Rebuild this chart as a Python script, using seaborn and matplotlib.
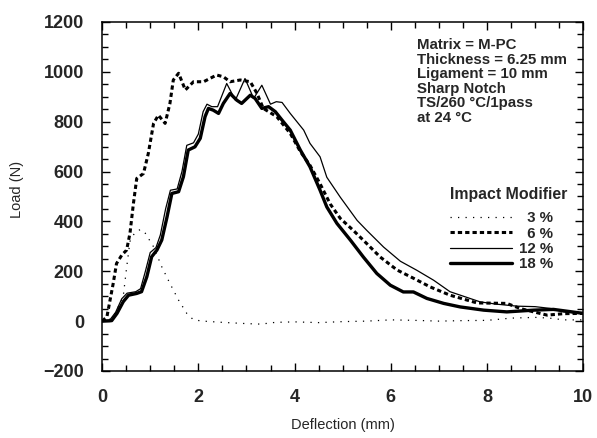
import matplotlib
matplotlib.use("Agg")
import matplotlib.pyplot as plt
from matplotlib.ticker import MultipleLocator
import pandas as pd
import seaborn as sns

# Impact-modifier levels (labels padded so the % signs line up)
modifiers = ["  3 %", "  6 %", "12 %", "18 %"]

# Load-deflection records, deflection in mm, load in N
defl_3 = [0.0, 0.15, 0.27, 0.37, 0.44, 0.51, 0.58, 0.68, 0.80, 0.90, 1.00, 1.07, 1.24,
          1.41, 1.59, 1.76, 1.90, 2.10, 2.50, 3.00, 3.30, 3.60, 4.00, 4.50, 5.00, 5.50,
          6.00, 6.50, 7.00, 7.50, 8.00, 8.50, 9.00, 9.30, 9.60, 10.0]
load_3 = [0, 5, 31, 70, 100, 215, 320, 355, 368, 352, 320, 298, 218,
          151, 84, 31, 5, 0, -5, -10, -12, -5, -3, -6, -2, 0,
          5, 3, 0, 2, 3, 12, 15, 12, 5, 5]

defl_6 = [0.0, 0.10, 0.23, 0.30, 0.41, 0.51, 0.58, 0.65, 0.72, 0.86, 0.96, 1.07, 1.17,
          1.31, 1.41, 1.48, 1.59, 1.73, 1.90, 2.11, 2.38, 2.52, 2.66, 2.87, 3.08, 3.22,
          3.35, 3.63, 3.91, 4.12, 4.32, 4.53, 4.74, 4.95, 5.22, 5.50, 5.78, 6.13, 6.47,
          6.82, 7.23, 7.79, 8.10, 8.41, 8.70, 8.97, 9.25, 9.60, 10.0]
load_6 = [0, 17, 150, 231, 265, 285, 353, 470, 572, 592, 672, 793, 826,
          793, 873, 967, 994, 927, 960, 960, 987, 980, 960, 967, 960, 913,
          853, 820, 753, 680, 625, 551, 470, 412, 364, 311, 257, 205, 172,
          137, 104, 73, 72, 71, 50, 37, 24, 30, 31]

defl_12 = [0.0, 0.15, 0.28, 0.41, 0.52, 0.70, 0.80, 0.90, 1.00, 1.12, 1.21, 1.32, 1.42,
           1.56, 1.66, 1.76, 1.90, 2.00, 2.10, 2.18, 2.28, 2.40, 2.59, 2.77, 2.97, 3.15,
           3.32, 3.50, 3.62, 3.74, 3.91, 4.19, 4.32, 4.53, 4.67, 4.95, 5.30, 5.50, 5.85,
           6.20, 6.54, 6.89, 7.23, 7.86, 8.20, 8.62, 9.00, 9.31, 9.59, 10.0]
load_12 = [0, 2, 35, 90, 112, 118, 130, 200, 275, 295, 345, 450, 525,
           530, 600, 705, 715, 750, 840, 870, 860, 860, 953, 886, 973, 893,
           946, 870, 880, 877, 833, 766, 713, 659, 577, 497, 404, 364, 297,
           240, 204, 164, 118, 77, 68, 60, 58, 51, 37, 30]

defl_18 = [0.0, 0.20, 0.31, 0.44, 0.55, 0.72, 0.82, 0.93, 1.03, 1.14, 1.24, 1.35, 1.45,
           1.59, 1.69, 1.79, 1.93, 2.04, 2.14, 2.21, 2.31, 2.42, 2.52, 2.66, 2.80, 2.90,
           3.08, 3.18, 3.32, 3.46, 3.60, 3.74, 3.91, 4.12, 4.32, 4.53, 4.67, 4.88, 5.16,
           5.43, 5.71, 5.99, 6.26, 6.47, 6.75, 7.10, 7.44, 7.93, 8.41, 8.97, 9.38, 10.0]
load_18 = [0, 2, 31, 78, 104, 111, 118, 178, 258, 285, 325, 418, 512,
           519, 579, 686, 699, 733, 820, 853, 846, 833, 873, 913, 886, 873,
           906, 893, 853, 860, 840, 806, 766, 686, 619, 525, 458, 392, 325,
           257, 191, 144, 117, 117, 91, 71, 57, 44, 37, 44, 47, 31]

x_ticks = [0, 2, 4, 6, 8, 10]
y_ticks = [-200, 0, 200, 400, 600, 800, 1000, 1200]

notes = ("Matrix = M-PC\nThickness = 6.25 mm\nLigament = 10 mm\n"
         "Sharp Notch\nTS/260 \u00b0C/1pass\nat 24 \u00b0C")

sns.set_theme(style="ticks")
plt.rcParams["font.family"] = ["Liberation Sans", "DejaVu Sans"]
plt.rcParams["axes.edgecolor"] = "black"
plt.rcParams["axes.linewidth"] = 1.1

frames = []
for level, xs, ys in zip(modifiers,
                         [defl_3, defl_6, defl_12, defl_18],
                         [load_3, load_6, load_12, load_18]):
    frames.append(pd.DataFrame({"Deflection (mm)": xs, "Load (N)": ys,
                                "Impact Modifier": level}))
df = pd.concat(frames, ignore_index=True)

fig = plt.figure(figsize=(5.97, 4.38), dpi=100)
ax = fig.add_axes([0.171, 0.153, 0.806, 0.797])

sns.lineplot(
    data=df, x="Deflection (mm)", y="Load (N)",
    hue="Impact Modifier", style="Impact Modifier", size="Impact Modifier",
    palette=["black"] * 4,
    dashes={modifiers[0]: (1, 5), modifiers[1]: (1.4, 1.0),
            modifiers[2]: "", modifiers[3]: ""},
    sizes={modifiers[0]: 0.9, modifiers[1]: 2.2,
           modifiers[2]: 0.9, modifiers[3]: 2.4},
    estimator=None, sort=False, ax=ax, legend="full",
)

ax.set_xlim(0, 10)
ax.set_ylim(-200, 1200)
ax.set_xticks(x_ticks)
ax.set_yticks(y_ticks)
ax.xaxis.set_minor_locator(MultipleLocator(0.5))
ax.yaxis.set_minor_locator(MultipleLocator(50))
ax.tick_params(which="both", direction="in", top=True, right=True,
               color="black", width=1.0)
ax.tick_params(which="major", length=5.5, pad=13, labelsize=13)
ax.tick_params(which="minor", length=4)
for lab in ax.get_xticklabels() + ax.get_yticklabels():
    lab.set_fontweight("bold")

ax.set_xlabel("Deflection (mm)", fontsize=10.5)
ax.set_ylabel("Load (N)", fontsize=10.5)
ax.xaxis.set_label_coords(0.5, -0.135)
ax.yaxis.set_label_coords(-0.162, 0.52)

ax.text(0.655, 0.953, notes, transform=ax.transAxes, ha="left", va="top",
        fontsize=10.8, fontweight="bold", linespacing=1.04)

sns.move_legend(ax, "upper right", bbox_to_anchor=(0.967, 0.528),
                frameon=False, title="Impact Modifier",
                prop={"size": 10.8, "weight": "bold"},
                title_fontproperties={"size": 11.4, "weight": "bold"},
                alignment="left",
                handlelength=4.1, handletextpad=0.5,
                labelspacing=0.08, borderpad=0, borderaxespad=0)
leg = ax.get_legend()
leg._legend_box.sep = 7

fig.savefig("out.png", dpi=100)
